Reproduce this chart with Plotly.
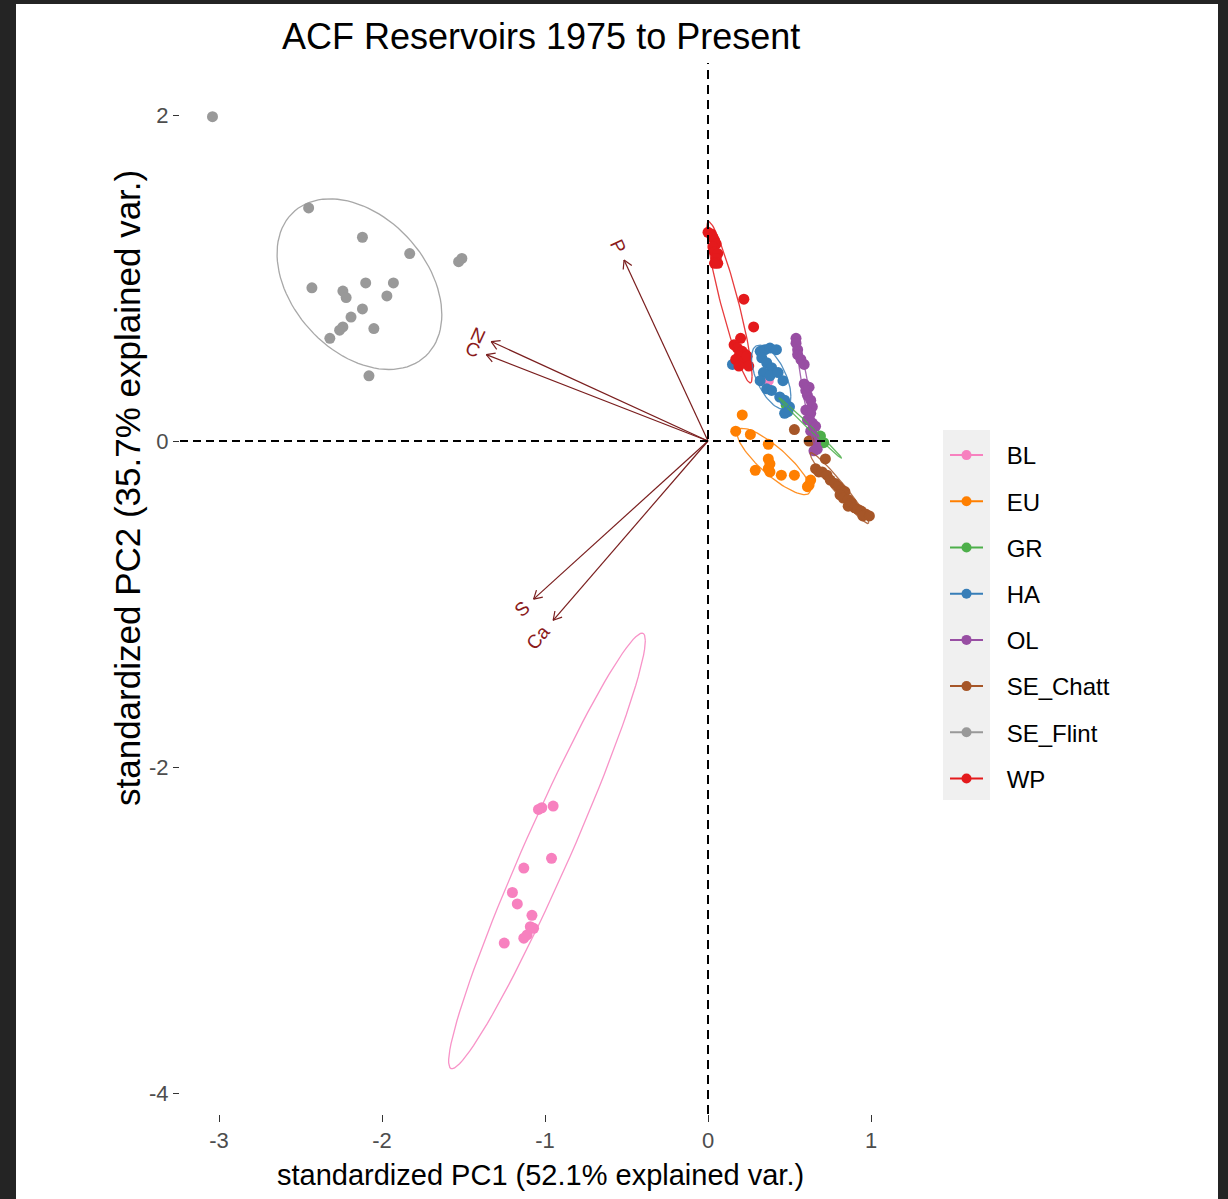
import numpy as np
import plotly.graph_objects as go

W, H = 1228, 1199

# ---------------- data ----------------
groups = ["BL", "EU", "GR", "HA", "OL", "SE_Chatt", "SE_Flint", "WP"]
group_colors = ["#F781BF", "#FF7F00", "#4DAF4A", "#377EB8", "#984EA3", "#A65628", "#999999", "#E41A1C"]

BL_x = [-1.04, -1.02, -0.95, -0.96, -1.13, -1.20, -1.17, -1.08, -1.09, -1.07, -1.13, -1.11, -1.25, 0.37]
BL_y = [-2.26, -2.25, -2.24, -2.56, -2.62, -2.77, -2.84, -2.91, -2.98, -2.99, -3.05, -3.03, -3.08, 0.37]

EU_x = [0.21, 0.17, 0.26, 0.37, 0.37, 0.38, 0.37, 0.38, 0.29, 0.45, 0.53, 0.63, 0.62, 0.61]
EU_y = [0.16, 0.06, 0.04, -0.02, -0.11, -0.14, -0.17, -0.19, -0.18, -0.21, -0.21, -0.24, -0.27, -0.28]

GR_x = [0.48, 0.69, 0.71]
GR_y = [0.22, 0.03, -0.01]

HA_x = [0.32, 0.35, 0.38, 0.42, 0.33, 0.36, 0.39, 0.34, 0.38, 0.32, 0.43, 0.46, 0.36, 0.39, 0.44, 0.47, 0.50, 0.49, 0.47, 0.15]
HA_y = [0.55, 0.56, 0.57, 0.56, 0.51, 0.48, 0.45, 0.42, 0.40, 0.37, 0.42, 0.37, 0.32, 0.31, 0.27, 0.25, 0.21, 0.18, 0.17, 0.47]

OL_x = [0.54, 0.54, 0.55, 0.55, 0.57, 0.59, 0.59, 0.60, 0.61, 0.62, 0.63, 0.64, 0.60, 0.63, 0.61, 0.64, 0.66, 0.63, 0.65, 0.66, 0.67, 0.65]
OL_y = [0.63, 0.60, 0.56, 0.53, 0.50, 0.47, 0.35, 0.31, 0.28, 0.33, 0.25, 0.21, 0.19, 0.17, 0.13, 0.11, 0.09, 0.06, 0.03, -0.01, -0.05, -0.06]

SE_Chatt_x = [0.53, 0.62, 0.72, 0.66, 0.68, 0.70, 0.73, 0.75, 0.78, 0.80, 0.82, 0.84, 0.81, 0.83, 0.86, 0.88, 0.86, 0.90, 0.92, 0.94, 0.97, 0.95, 0.99]
SE_Chatt_y = [0.07, 0.00, -0.11, -0.17, -0.19, -0.19, -0.21, -0.24, -0.26, -0.28, -0.30, -0.31, -0.33, -0.35, -0.36, -0.38, -0.40, -0.41, -0.42, -0.43, -0.45, -0.46, -0.46]

SE_Flint_x = [-3.04, -2.45, -2.12, -1.83, -1.51, -1.53, -2.43, -2.24, -2.22, -2.10, -1.93, -1.97, -2.12, -2.19, -2.24, -2.26, -2.05, -2.32, -2.08]
SE_Flint_y = [1.99, 1.43, 1.25, 1.15, 1.12, 1.10, 0.94, 0.92, 0.88, 0.97, 0.97, 0.89, 0.81, 0.76, 0.70, 0.68, 0.69, 0.63, 0.40]

WP_x = [0.00, 0.02, 0.03, 0.04, 0.05, 0.03, 0.04, 0.06, 0.05, 0.06, 0.04, 0.22, 0.28, 0.20, 0.16, 0.18, 0.21, 0.23, 0.19, 0.17, 0.22, 0.24, 0.25, 0.19]
WP_y = [1.28, 1.27, 1.25, 1.23, 1.21, 1.19, 1.16, 1.15, 1.12, 1.09, 1.09, 0.87, 0.70, 0.63, 0.59, 0.57, 0.55, 0.53, 0.52, 0.50, 0.49, 0.52, 0.46, 0.46]

var_names = ["P", "N", "C", "S", "Ca"]
var_x = [-0.515, -1.33, -1.36, -1.07, -0.95]
var_y = [1.11, 0.61, 0.53, -0.97, -1.10]

x_ticks = [-3, -2, -1, 0, 1]
y_ticks = [-4, -2, 0, 2]

title_text = "ACF Reservoirs 1975 to Present"
x_title = "standardized PC1 (52.1% explained var.)"
y_title = "standardized PC2 (35.7% explained var.)"

group_data = {
    "BL": (BL_x, BL_y), "EU": (EU_x, EU_y), "GR": (GR_x, GR_y), "HA": (HA_x, HA_y),
    "OL": (OL_x, OL_y), "SE_Chatt": (SE_Chatt_x, SE_Chatt_y),
    "SE_Flint": (SE_Flint_x, SE_Flint_y), "WP": (WP_x, WP_y),
}

# ---------------- layout geometry (pixels) ----------------
PX0, PY0, UNIT = 708.0, 441.0, 163.0       # origin position and pixels per unit
P_LEFT, P_RIGHT, P_TOP, P_BOTTOM = 180, 893, 63, 1114
xr = [(P_LEFT - PX0) / UNIT, (P_RIGHT - PX0) / UNIT]
yr = [(PY0 - P_BOTTOM) / UNIT, (PY0 - P_TOP) / UNIT]

def fx(px):
    return px / W

def fy(py):
    return 1 - py / H

FONT = "Arial, Liberation Sans, sans-serif"
ARROW_COL = "#7A1E1E"
LABEL_COL = "#8B1A1A"
LEGEND_PAD = "\u2002\u00a0"   # gap between legend key and label

fig = go.Figure()

# ---------------- arrows (variables) ----------------
head = 0.058
for nm, vx, vy in zip(var_names, var_x, var_y):
    L = np.hypot(vx, vy)
    ux, uy = vx / L, vy / L
    xs, ys = [0, vx, None], [0, vy, None]
    for a in (np.deg2rad(30), np.deg2rad(-30)):
        rx = ux * np.cos(a) - uy * np.sin(a)
        ry = ux * np.sin(a) + uy * np.cos(a)
        xs += [vx, vx - head * rx, None]
        ys += [vy, vy - head * ry, None]
    fig.add_trace(go.Scatter(x=xs, y=ys, mode="lines", line=dict(color=ARROW_COL, width=1.2),
                             showlegend=False, hoverinfo="skip"))

# ---------------- points ----------------
for g, c in zip(groups, group_colors):
    gx, gy = group_data[g]
    fig.add_trace(go.Scatter(x=gx, y=gy, mode="markers", marker=dict(color=c, size=11),
                             showlegend=False, name=g))

# ---------------- ellipses (68% normal ellipse, as ggbiplot) ----------------
theta = np.linspace(0, 2 * np.pi, 100)
circle = np.column_stack([np.cos(theta), np.sin(theta)])
ed = np.sqrt(-2 * np.log(1 - 0.68))
for g, c in zip(groups, group_colors):
    gx, gy = group_data[g]
    pts = np.column_stack([gx, gy])
    if len(pts) <= 2:
        continue
    sigma = np.cov(pts.T)
    mu = pts.mean(axis=0)
    Lc = np.linalg.cholesky(sigma)
    ell = ed * circle @ Lc.T + mu
    fig.add_trace(go.Scatter(x=ell[:, 0], y=ell[:, 1], mode="lines",
                             line=dict(color=c, width=1.3), opacity=0.85,
                             showlegend=False, hoverinfo="skip"))

# ---------------- legend-only traces ----------------
for g, c in zip(groups, group_colors):
    fig.add_trace(go.Scatter(x=[None], y=[None], mode="lines+markers", name=LEGEND_PAD + g,
                             legendgroup=g, line=dict(color=c, width=2),
                             marker=dict(color=c, size=10), showlegend=True))

# ---------------- variable labels ----------------
lab_size = 19
for nm, vx, vy in zip(var_names, var_x, var_y):
    L = np.hypot(vx, vy)
    ux, uy = vx / L, vy / L
    ang = np.degrees(np.arctan(vy / vx))
    w = 0.6 * lab_size * len(nm)
    d = 6 + 0.75 * w
    fig.add_annotation(x=vx, y=vy, xref="x", yref="y", text=nm, showarrow=False,
                       textangle=-ang, xshift=ux * d, yshift=uy * d,
                       font=dict(family=FONT, size=lab_size, color=LABEL_COL),
                       xanchor="center", yanchor="middle")

# ---------------- reference lines ----------------
fig.add_hline(y=0, line=dict(color="black", width=2, dash="8px,5px"), layer="above")
fig.add_vline(x=0, line=dict(color="black", width=2, dash="9px,6px"), layer="above")

# ---------------- titles ----------------
fig.add_annotation(x=fx(541), y=fy(37), xref="paper", yref="paper", text=title_text,
                   showarrow=False, xanchor="center", yanchor="middle",
                   font=dict(family=FONT, size=36, color="black"))
fig.add_annotation(x=fx(540), y=fy(1175), xref="paper", yref="paper", text=x_title,
                   showarrow=False, xanchor="center", yanchor="middle",
                   font=dict(family=FONT, size=29, color="black"))
fig.add_annotation(x=fx(128), y=fy(488), xref="paper", yref="paper", text=y_title,
                   showarrow=False, xanchor="center", yanchor="middle", textangle=-90,
                   font=dict(family=FONT, size=35, color="black"))

# ---------------- background frame & legend key panel ----------------
shapes = [
    dict(type="rect", xref="paper", yref="paper", x0=fx(16), x1=fx(1218), y0=fy(1199), y1=fy(4),
         fillcolor="white", line=dict(width=0), layer="below"),
    dict(type="rect", xref="paper", yref="paper", x0=fx(943), x1=fx(990), y0=fy(800), y1=fy(430),
         fillcolor="#F0F0F0", line=dict(width=0), layer="below"),
]
for s in shapes:
    fig.add_shape(**s)

fig.update_layout(
    width=W, height=H,
    margin=dict(l=0, r=0, t=0, b=0),
    paper_bgcolor="#242424",
    plot_bgcolor="white",
    font=dict(family=FONT),
    showlegend=True,
    legend=dict(x=fx(945), y=fy(433), xanchor="left", yanchor="top",
                bgcolor="rgba(0,0,0,0)", font=dict(family=FONT, size=24, color="black"),
                tracegroupgap=12, itemwidth=33),
    xaxis=dict(domain=[fx(P_LEFT), fx(P_RIGHT)], range=xr, showgrid=False, zeroline=False,
               showline=False, tickmode="array", tickvals=x_ticks, ticktext=[str(t) for t in x_ticks],
               ticks="outside", ticklen=7, tickwidth=1.3, tickcolor="#333333",
               tickfont=dict(family=FONT, size=22, color="#4D4D4D")),
    yaxis=dict(domain=[fy(P_BOTTOM), fy(P_TOP)], range=yr, showgrid=False, zeroline=False,
               showline=False, tickmode="array", tickvals=y_ticks, ticktext=[str(t) for t in y_ticks],
               ticks="outside", ticklen=6, tickwidth=1.3, tickcolor="#333333",
               tickfont=dict(family=FONT, size=22, color="#4D4D4D")),
)

fig.write_html("out.html", config={"displayModeBar": False},
               post_script="document.body.style.margin='0px';")
